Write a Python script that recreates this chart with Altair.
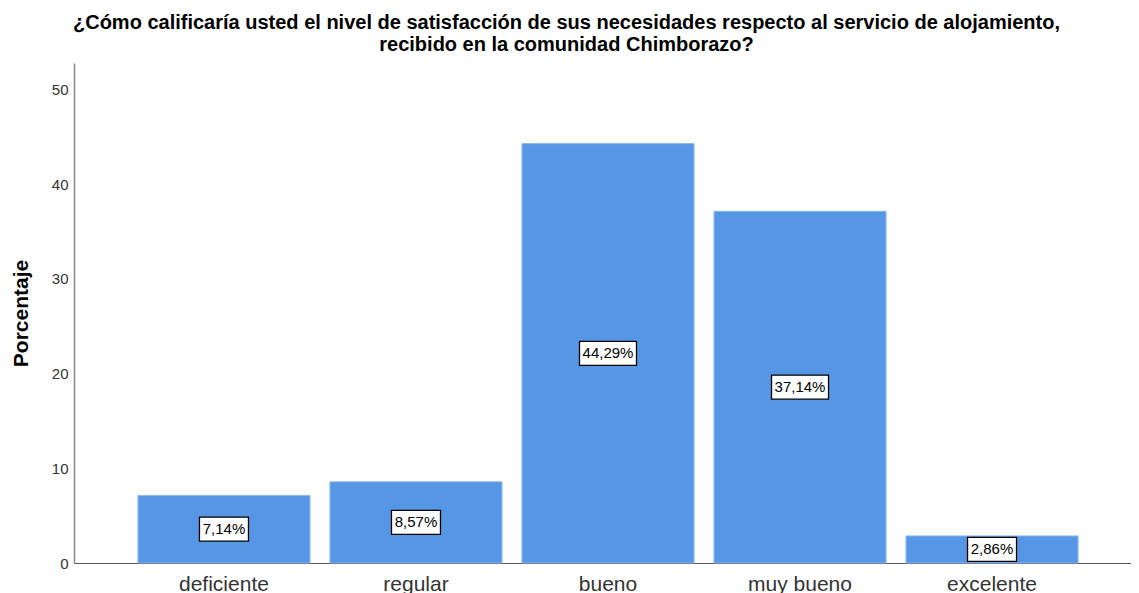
import altair as alt
import pandas as pd

categories = ["deficiente", "regular", "bueno", "muy bueno", "excelente"]
values = [7.14, 8.57, 44.29, 37.14, 2.86]
labels = ["7,14%", "8,57%", "44,29%", "37,14%", "2,86%"]
y_ticks = [0, 10, 20, 30, 40, 50]

df = pd.DataFrame({"cat": categories, "val": values, "lab": labels})

x_enc = alt.X("cat:N", sort=categories, title=None,
              scale=alt.Scale(range=[0, 1068], paddingInner=0.104, paddingOuter=0.333),
              axis=alt.Axis(labelAngle=0, labelFontSize=21, labelColor="#333333",
                            labelFont="Liberation Sans", labelPadding=10, ticks=False,
                            domainColor="#555555", domainWidth=1.2))
y_scale = alt.Scale(domain=[0, 52.8], nice=False)

bars = alt.Chart(df).mark_bar(color="#5596E5", stroke="#8FB8EE", strokeWidth=1).encode(
    x=x_enc,
    y=alt.Y("val:Q", scale=y_scale, title="Porcentaje",
            axis=alt.Axis(values=y_ticks, grid=False, ticks=False, labelFontSize=15,
                          labelColor="#333333", labelFont="Liberation Sans", labelPadding=6,
                          titleFont="Liberation Sans", titleFontSize=21, titleFontWeight="bold",
                          titleColor="#000000", titlePadding=20,
                          domainColor="#888888", domainWidth=1.5)),
)

path5 = "M-24.5,-12H24.5V12H-24.5Z"
path6 = "M-28.5,-12H28.5V12H-28.5Z"

base = alt.Chart(df).transform_calculate(mid="datum.val/2", n="length(datum.lab)")

boxes = base.mark_point(filled=True, fill="white", stroke="black", strokeWidth=1.3,
                        size=4, opacity=1).encode(
    x=alt.X("cat:N", sort=categories),
    y=alt.Y("mid:Q", scale=y_scale),
    shape=alt.Shape("n:O", scale=alt.Scale(domain=[5, 6], range=[path5, path6]), legend=None),
)

texts = base.mark_text(fontSize=15, font="Liberation Sans", color="black").encode(
    x=alt.X("cat:N", sort=categories),
    y=alt.Y("mid:Q", scale=y_scale),
    text="lab:N",
)

chart = alt.layer(bars, boxes, texts).properties(
    width=1057, height=500,
    padding={"left": 66, "top": 55, "right": 0, "bottom": 30},
    autosize=alt.AutoSizeParams(type="none"),
    title=alt.TitleParams(
        ["¿Cómo calificaría usted el nivel de satisfacción de sus necesidades respecto al servicio de alojamiento,",
         "recibido en la comunidad Chimborazo?"],
        font="Liberation Sans", fontSize=20, fontWeight="bold", color="#000000",
        anchor="middle", dx=-36, offset=8, lineHeight=22),
).configure_view(stroke=None)

chart.save("out.html", embed_options={"renderer": "svg", "actions": False})
